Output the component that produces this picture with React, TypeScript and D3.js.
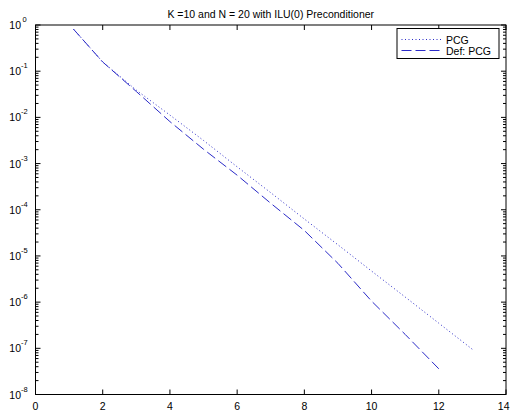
import React from "react";
import * as d3 from "d3";

const pcgX = [1.13, 2, 3, 4, 5, 6, 7, 8, 9, 10, 11, 12, 13];
const pcgY = [0.813, 0.158, 0.0389, 0.0112, 3.16e-3, 8.5e-4, 2.34e-4, 6.3e-5, 1.74e-5, 4.7e-6, 1.29e-6, 3.5e-7, 9.5e-8];
const defX = [1.13, 2, 3, 4, 5, 6, 7, 8, 9, 10, 11, 12];
const defY = [0.813, 0.158, 0.0363, 8.1e-3, 2.04e-3, 5.6e-4, 1.38e-4, 3.55e-5, 6.9e-6, 1.05e-6, 2.0e-7, 3.6e-8];
const xTicks = [0, 2, 4, 6, 8, 10, 12, 14];
const yExps = [0, -1, -2, -3, -4, -5, -6, -7, -8];
const title = "K =10 and N = 20 with ILU(0) Preconditioner";
const legendLabels = ["PCG", "Def: PCG"];

const W = 510, H = 416;
const L = 35.5, R = 506, T = 25, B = 394.5;
const FONT = "Liberation Sans, Arial, sans-serif";
const LINE = "#2b2bc8";

export default function App() {
  const x = d3.scaleLinear().domain([0, 14]).range([L, R]);
  const y = d3.scaleLog().domain([1e-8, 1]).range([B, T]);
  const line = d3.line<[number, number]>().x(d => x(d[0])).y(d => y(d[1]));
  const pcg = line(pcgX.map((v, i) => [v, pcgY[i]] as [number, number])) || "";
  const def = line(defX.map((v, i) => [v, defY[i]] as [number, number])) || "";

  const minor: number[] = [];
  for (let e = -8; e < 0; e++) {
    for (let m = 2; m <= 9; m++) minor.push(m * Math.pow(10, e));
  }

  return (
    <svg width={W} height={H} style={{ position: "absolute", left: 0, top: 0, background: "#fff" }}>
      <defs>
        <clipPath id="plot">
          <rect x={L} y={T} width={R - L} height={B - T} />
        </clipPath>
      </defs>
      <rect x={0} y={0} width={W} height={H} fill="#fff" />
      <text x={(L + R) / 2} y={17.5} textAnchor="middle" fontFamily={FONT} fontSize={10.5} fill="#000">{title}</text>

      <g clipPath="url(#plot)">
        <path d={pcg} fill="none" stroke={LINE} strokeWidth={1} strokeDasharray="1,2.5" />
        <path d={def} fill="none" stroke={LINE} strokeWidth={1} strokeDasharray="10,4" />
      </g>

      <rect x={L} y={T} width={R - L} height={B - T} fill="none" stroke="#000" strokeWidth={1} />

      {xTicks.map((t, i) => (
        <g key={"x" + t}>
          <line x1={x(t)} x2={x(t)} y1={B} y2={B - 5} stroke="#000" />
          <line x1={x(t)} x2={x(t)} y1={T} y2={T + 5} stroke="#000" />
          <text x={i === xTicks.length - 1 ? 509.5 : x(t)} y={410} textAnchor={i === xTicks.length - 1 ? "end" : "middle"} fontFamily={FONT} fontSize={10.5} fill="#000">{t}</text>
        </g>
      ))}

      {yExps.map(e => (
        <g key={"y" + e}>
          <line x1={L} x2={L + 5} y1={y(Math.pow(10, e))} y2={y(Math.pow(10, e))} stroke="#000" />
          <line x1={R} x2={R - 5} y1={y(Math.pow(10, e))} y2={y(Math.pow(10, e))} stroke="#000" />
          <text x={21} y={y(Math.pow(10, e)) + 4} textAnchor="end" fontFamily={FONT} fontSize={10.5} fill="#000">10</text>
          <text x={e < 0 ? 21 : 22.5} y={y(Math.pow(10, e)) - 3} fontFamily={FONT} fontSize={7.5} fill="#000">{e < 0 ? "-" + Math.abs(e) : String(e)}</text>
        </g>
      ))}

      {minor.map((v, i) => (
        <g key={"m" + i}>
          <line x1={L} x2={L + 3} y1={y(v)} y2={y(v)} stroke="#000" />
          <line x1={R} x2={R - 3} y1={y(v)} y2={y(v)} stroke="#000" />
        </g>
      ))}

      <g>
        <rect x={397} y={28.5} width={102} height={30} fill="#fff" stroke="#000" strokeWidth={1} />
        <line x1={401.5} x2={441.5} y1={39.5} y2={39.5} stroke={LINE} strokeDasharray="1,2.5" />
        <line x1={401.5} x2={441.5} y1={50.5} y2={50.5} stroke={LINE} strokeDasharray="10,4" />
        <text x={446} y={43.5} fontFamily={FONT} fontSize={10.5} fill="#000">{legendLabels[0]}</text>
        <text x={446} y={54.5} fontFamily={FONT} fontSize={10.5} fill="#000">{legendLabels[1]}</text>
      </g>
    </svg>
  );
}
